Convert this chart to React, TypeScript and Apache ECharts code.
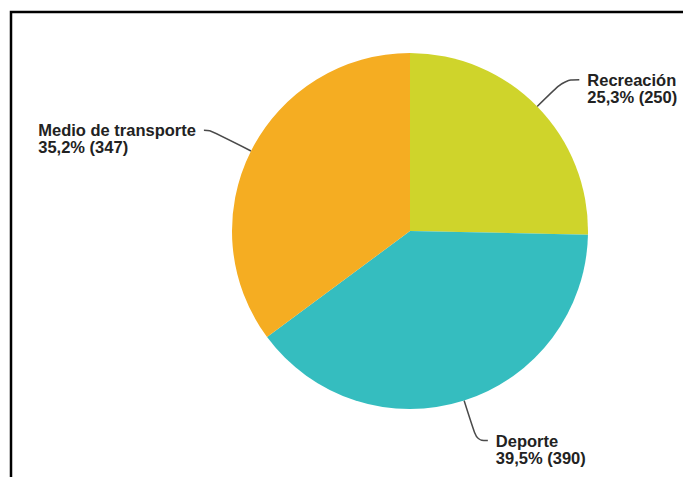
import React, { useEffect, useRef } from "react";
import * as echarts from "echarts";

const categories = ["Recreación", "Deporte", "Medio de transporte"];
const values = [250, 390, 347];
const percentLabels = ["25,3%", "39,5%", "35,2%"];
const colors = ["#CFD42B", "#35BDBF", "#F5AD22"];

export default function App() {
  const ref = useRef<HTMLDivElement>(null);
  useEffect(() => {
    if (!ref.current) return;
    const chart = echarts.init(ref.current, undefined, { renderer: "svg" });
    const lineCfg = [
      { length: 38, length2: 15 },
      { length: 42, length2: 11 },
      { length: 46, length2: 6 },
    ];
    const txt = {
      align: "left",
      fontFamily: "Liberation Sans, Arial, sans-serif",
      fontWeight: "bold",
      fontSize: 16.5,
      lineHeight: 17,
      color: "#222222",
    };
    chart.setOption({
      animation: false,
      backgroundColor: "#ffffff",
      graphic: [
        {
          type: "rect",
          shape: { x: 11, y: 12, width: 720, height: 520 },
          style: { fill: "none", stroke: "#000000", lineWidth: 2.5 },
          silent: true,
        },
      ],
      series: [
        {
          type: "pie",
          center: [410, 231],
          radius: 178,
          startAngle: 90,
          clockwise: true,
          avoidLabelOverlap: false,
          itemStyle: { borderWidth: 0 },
          label: {
            show: true,
            position: "outside",
            distanceToLabelLine: 8,
            formatter: (p: any) =>
              `{s| }\n{t|${categories[p.dataIndex]}}\n{t|${percentLabels[p.dataIndex]} (${values[p.dataIndex]})}`,
            rich: {
              s: { fontSize: 10, lineHeight: 17 },
              t: txt,
            },
          },
          labelLine: {
            show: true,
            smooth: 0.4,
            lineStyle: { color: "#4a4a4a", width: 1.5 },
          },
          data: categories.map((c, i) => ({
            name: c,
            value: values[i],
            itemStyle: { color: colors[i] },
            labelLine: lineCfg[i],
          })),
        },
      ],
    });
    return () => chart.dispose();
  }, []);
  return (
    <div
      ref={ref}
      style={{ position: "fixed", left: 0, top: 0, width: 683, height: 477 }}
    />
  );
}
